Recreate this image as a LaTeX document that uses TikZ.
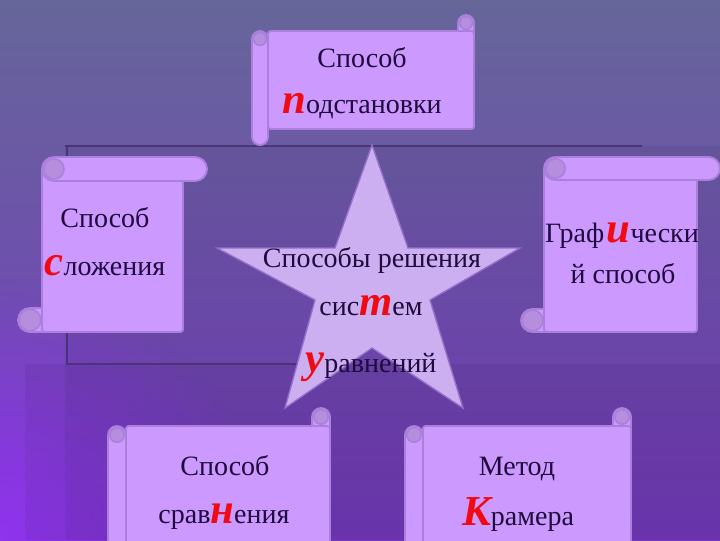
\documentclass[tikz,border=0pt]{standalone}
\usepackage{fontspec}
\setmainfont{Liberation Serif}
\usetikzlibrary{fadings}

\definecolor{bgtop}{RGB}{102,102,153}
\definecolor{bgbot}{RGB}{118,58,192}
\definecolor{bgleft}{RGB}{150,50,250}
\definecolor{scrollfill}{RGB}{204,153,255}
\definecolor{scrolledge}{RGB}{170,128,220}
\definecolor{curlfill}{RGB}{182,142,222}
\definecolor{starfill}{RGB}{204,175,240}
\definecolor{staredge}{RGB}{150,110,200}
\definecolor{darkline}{RGB}{75,52,120}
\definecolor{textdark}{RGB}{30,10,60}
\definecolor{redletter}{RGB}{240,10,20}

\tikzfading[name=glow, inner color=transparent!0, outer color=transparent!100]

% red first letter
\newcommand{\rl}[1]{{\color{redletter}\fontsize{32}{32}\selectfont\bfseries\itshape #1}}

% horizontal scroll: x0, y0, x1, y1, roll size
\newcommand{\hscroll}[5]{%
  \draw[scroll, rounded corners=#5*0.375pt] ({#3-#5},#2) rectangle (#3,{#2+2*#5});
  \draw[scroll, rounded corners=2pt] ({#1+#5},{#2+#5}) rectangle (#3,{#4-#5});
  \draw[curl] ({#3-#5/2},{#2+#5/2}) circle ({#5*0.4});
  \draw[scroll, rounded corners=#5*0.375pt] (#1,{#2+#5}) rectangle ({#1+#5},#4);
  \draw[curl] ({#1+#5/2},{#2+1.5*#5}) circle ({#5*0.4});
}
% vertical scroll: x0, y0, x1, y1, roll size
\newcommand{\vscroll}[5]{%
  \draw[scroll, rounded corners=#5*0.375pt] (#1,{#4-#5}) rectangle ({#1+2*#5},#4);
  \draw[scroll, rounded corners=2pt] ({#1+#5},{#2+#5/2}) rectangle ({#3-#5},#4);
  \draw[scroll, rounded corners=#5*0.375pt] ({#1+#5},#2) rectangle (#3,{#2+#5});
  \draw[curl] ({#1+1.5*#5},{#2+#5/2}) circle ({#5*0.42});
  \draw[curl] ({#1+#5/2},{#4-#5/2}) circle ({#5*0.45});
}

\begin{document}
\begin{tikzpicture}[x=0.75pt,y=0.75pt,yscale=-1,xscale=1,
  scroll/.style={draw=scrolledge, fill=scrollfill, line width=1.4pt},
  curl/.style={draw=scrolledge, fill=curlfill, line width=1.2pt},
  txt/.style={anchor=base, inner sep=0.75pt, text=textdark, font=\fontsize{21}{25}\selectfont}]
\useasboundingbox (0,0) rectangle (720,540);
\clip (0,0) rectangle (720,540);

%Background
\shade[top color=bgtop, bottom color=bgbot] (0,0) rectangle (720,540);
\fill[bgleft, path fading=glow, opacity=0.8] (-260,280) rectangle (260,800);
\fill[black, opacity=0.05] (65,146) rectangle (720,540);
\fill[black, opacity=0.05] (25,364) rectangle (720,540);
\draw[darkline, line width=2pt] (65,146) -- (642,146);
\draw[darkline, line width=2pt] (67,146) -- (67,364) -- (320,364);

%Shape: Star
\draw[fill=starfill, draw=staredge, line width=1pt] (372,145) -- (408,248) -- (520,248) -- (430,300) -- (463,408) -- (372,348) -- (285,408) -- (315,300) -- (217,248) -- (335,248) -- cycle;

%Shape: Scrolls
\hscroll{252}{15}{474}{145}{16}
\vscroll{18}{157}{207}{332}{24}
\vscroll{521}{157}{720}{332}{23}
\hscroll{108}{408}{330}{575}{18}
\hscroll{405}{408}{631}{575}{18}

% Text Node
\node[txt] (podsta) at (362,67) {Способ};
% Text Node
\node[txt] (podstb) at (362,113) {\rl{п}одстановки};
% Text Node
\node[txt] (slozha) at (105,227) {Способ};
% Text Node
\node[txt] (slozhb) at (105,275) {\rl{с}ложения};
% Text Node
\node[txt] (grafa) at (622,242) {Граф\kern2pt\rl{и}чески};
% Text Node
\node[txt] (grafb) at (623,283) {й способ};
% Text Node
\node[txt] (sistema) at (372,267) {Способы решения};
% Text Node
\node[txt] (sistemb) at (371,315) {сис\rl{т}ем};
% Text Node
\node[txt] (sistemc) at (371,372) {\rl{у}равнений};
% Text Node
\node[txt] (sravna) at (225,475) {Способ};
% Text Node
\node[txt] (sravnb) at (224,523) {срав\rl{н}ения};
% Text Node
\node[txt] (kramera) at (517,475) {Метод};
% Text Node
\node[txt] (kramerb) at (518,525) {\rl{К}рамера};

\end{tikzpicture}
\end{document}
